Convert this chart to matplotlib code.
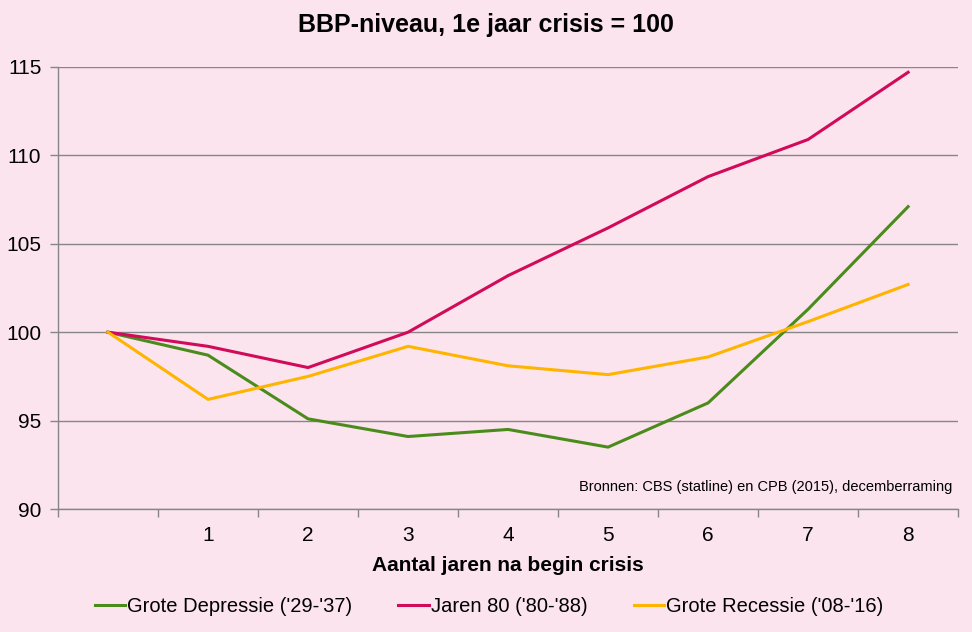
import matplotlib.pyplot as plt

plt.rcParams['font.family'] = ['Liberation Sans', 'DejaVu Sans']

years = [0, 1, 2, 3, 4, 5, 6, 7, 8]
tick_labels = ['', '1', '2', '3', '4', '5', '6', '7', '8']
depressie = [100, 98.7, 95.1, 94.1, 94.5, 93.5, 96.0, 101.3, 107.1]
jaren80 = [100, 99.2, 98.0, 100.0, 103.2, 105.9, 108.8, 110.9, 114.7]
recessie = [100, 96.2, 97.5, 99.2, 98.1, 97.6, 98.6, 100.6, 102.7]

bg = '#FBE4EE'
grey = '#868686'

fig = plt.figure(figsize=(9.72, 6.32), dpi=100, facecolor=bg)
ax = fig.add_axes([0.0597, 0.1946, 0.926, 0.6994], facecolor=bg)

ax.plot(years, depressie, color='#4A8C1C', lw=2.2, label="Grote Depressie ('29-'37)")
ax.plot(years, jaren80, color='#D10A5A', lw=2.2, label="Jaren 80 ('80-'88)")
ax.plot(years, recessie, color='#FFB400', lw=2.2, label="Grote Recessie ('08-'16)")

ax.set_xlim(-0.5, 8.5)
ax.set_ylim(90, 115)
ax.set_yticks([90, 95, 100, 105, 110, 115])
ax.yaxis.grid(True, color=grey, lw=1)
ax.set_axisbelow(True)

ax.set_xticks(years)
ax.set_xticklabels(tick_labels)
ax.set_xticks([x - 0.5 for x in range(10)], minor=True)
ax.tick_params(axis='x', which='major', length=0, pad=12, labelsize=15)
ax.tick_params(axis='x', which='minor', length=6, color=grey, width=1, direction='out')
ax.tick_params(axis='y', length=6, color=grey, width=1, labelsize=15, pad=6)

for s in ['top', 'right']:
    ax.spines[s].set_visible(False)
for s in ['left', 'bottom']:
    ax.spines[s].set_color(grey)
    ax.spines[s].set_linewidth(1)

ax.set_xlabel('Aantal jaren na begin crisis', fontsize=15, fontweight='bold', labelpad=8)
fig.suptitle('BBP-niveau, 1e jaar crisis = 100', fontsize=18, fontweight='bold', y=0.98)

ax.text(0.994, 0.035, 'Bronnen: CBS (statline) en CPB (2015), decemberraming',
        transform=ax.transAxes, ha='right', va='bottom', fontsize=10.5)

fig.legend(loc='center', bbox_to_anchor=(0.503, 0.04), ncol=3, frameon=False,
           fontsize=14.5, handlelength=1.5, handletextpad=0.1, columnspacing=2.3)

fig.savefig('out.png', dpi=100, facecolor=bg)
